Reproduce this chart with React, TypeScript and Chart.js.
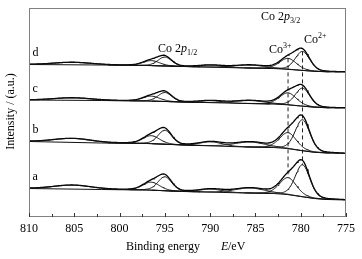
import React, { useEffect, useRef } from "react";
import { Chart, registerables } from "chart.js";

Chart.register(...registerables);

const W = 362;
const H = 259;
const FONT = '"Liberation Serif", "Times New Roman", serif';

// x axis ticks (binding energy, eV)
const xTickValues = [810, 805, 800, 795, 790, 785, 780, 775];
const xMinorValues = [807.5, 802.5, 797.5, 792.5, 787.5, 782.5, 777.5];

// spectra, bottom to top
const spectrumNames = ["a", "b", "c", "d"];

// fitted components: Co2+ 2p3/2, Co3+ 2p3/2, sat, sat, Co2+ 2p1/2, Co3+ 2p1/2, sat
const peakCenters = [779.8, 781.4, 785.6, 789.9, 795.0, 796.5, 805.2];
const peakFwhm = [1.9, 2.2, 4.0, 3.0, 1.8, 2.2, 5.0];
const heightsA = [32, 17, 5, 3, 14, 8, 4];
const heightsB = [31, 16, 5, 4, 14, 8, 4];
const heightsC = [18, 12, 3, 2, 9, 5, 2.5];
const heightsD = [19, 11, 3, 2, 9, 5, 2.5];

// background (Shirley) read at these energies
const bgEnergies = [810, 802, 797, 793, 786, 783, 781.5, 780, 778.5, 777, 775];
const bgA = [28.5, 27.5, 27, 25.5, 24, 23.5, 22.5, 20.5, 18.5, 17.5, 17];
const bgB = [75.5, 74, 73.5, 72, 70, 69.5, 68.5, 66.5, 64.7, 64, 63.5];
const bgC = [117, 116.5, 116, 115, 113.5, 113, 112.2, 111, 109.8, 109.2, 109];
const bgD = [152.5, 152, 151.5, 150.5, 149, 148.5, 147.7, 146.7, 145.7, 145.2, 145];

const LOR = 0.2;

function bgAt(e: number, vals: number[]): number {
  for (let i = 0; i < bgEnergies.length - 1; i++) {
    const e0 = bgEnergies[i];
    const e1 = bgEnergies[i + 1];
    if (e <= e0 && e >= e1) {
      const t = (e0 - e) / (e0 - e1);
      return vals[i] + t * (vals[i + 1] - vals[i]);
    }
  }
  return e > bgEnergies[0] ? vals[0] : vals[vals.length - 1];
}

function glPeak(e: number, c: number, w: number, h: number): number {
  const d = (e - c) / w;
  return h * ((1 - LOR) * Math.exp(-4 * Math.LN2 * d * d) + LOR / (1 + 4 * d * d));
}

type Rich = { t: string; italic?: boolean; size?: number; dy?: number };

function drawRich(ctx: CanvasRenderingContext2D, x: number, y: number, parts: Rich[]) {
  let cx = x;
  ctx.textAlign = "left";
  ctx.textBaseline = "alphabetic";
  for (const p of parts) {
    ctx.font = `${p.italic ? "italic " : ""}${p.size || 12}px ${FONT}`;
    ctx.fillText(p.t, cx, y + (p.dy || 0));
    cx += ctx.measureText(p.t).width;
  }
}

export default function App() {
  const ref = useRef<HTMLCanvasElement>(null);

  useEffect(() => {
    const canvas = ref.current;
    if (!canvas) return;

    const energies: number[] = [];
    for (let i = 0; i <= 350; i++) energies.push(Math.round((810 - i * 0.1) * 100) / 100);

    const spectra = [
      { h: heightsA, bg: bgA },
      { h: heightsB, bg: bgB },
      { h: heightsC, bg: bgC },
      { h: heightsD, bg: bgD },
    ];

    const datasets: any[] = [];
    const lineBase = {
      borderColor: "#111",
      borderWidth: 1,
      pointRadius: 0,
      fill: false,
      tension: 0,
    };

    spectra.forEach((s, si) => {
      datasets.push({
        ...lineBase,
        label: spectrumNames[si] + " background",
        data: bgEnergies.map((e, i) => ({ x: e, y: s.bg[i] })),
      });
      peakCenters.forEach((c, pi) => {
        const w = peakFwhm[pi];
        const pts = energies
          .filter((e) => Math.abs(e - c) <= 2.2 * w)
          .map((e) => ({ x: e, y: bgAt(e, s.bg) + glPeak(e, c, w, s.h[pi]) }));
        datasets.push({ ...lineBase, label: spectrumNames[si] + " comp " + pi, data: pts });
      });
      datasets.push({
        ...lineBase,
        borderWidth: 1.3,
        borderColor: "#000",
        label: spectrumNames[si] + " envelope",
        data: energies.map((e) => {
          let v = bgAt(e, s.bg);
          peakCenters.forEach((c, pi) => {
            v += glPeak(e, c, peakFwhm[pi], s.h[pi]);
          });
          return { x: e, y: v };
        }),
      });
    });

    // dashed guide lines through Co3+ and Co2+ 2p3/2 components, from d down to a
    [1, 0].forEach((pi) => {
      const c = peakCenters[pi];
      const top = bgAt(c, bgD) + heightsD[pi];
      const bot = bgAt(c, bgA) + heightsA[pi];
      datasets.push({
        ...lineBase,
        borderColor: "#222",
        borderDash: [4, 3],
        label: "guide " + pi,
        data: [
          { x: c, y: top },
          { x: c, y: bot },
        ],
      });
    });

    const decor = {
      id: "decor",
      afterDraw(chart: any) {
        const ctx: CanvasRenderingContext2D = chart.ctx;
        const xs = chart.scales.x;
        const ys = chart.scales.y;
        const { left, right, top, bottom } = chart.chartArea;
        ctx.save();
        // frame
        ctx.strokeStyle = "#808080";
        ctx.lineWidth = 1;
        ctx.strokeRect(left + 0.5, top + 0.5, right - left - 1, bottom - top - 1);
        // ticks (inward)
        ctx.strokeStyle = "#333";
        ctx.beginPath();
        xTickValues.forEach((v) => {
          const px = Math.round(xs.getPixelForValue(v)) + 0.5;
          ctx.moveTo(px, bottom);
          ctx.lineTo(px, bottom - 4);
        });
        xMinorValues.forEach((v) => {
          const px = Math.round(xs.getPixelForValue(v)) + 0.5;
          ctx.moveTo(px, bottom);
          ctx.lineTo(px, bottom - 3);
        });
        ctx.stroke();

        ctx.fillStyle = "#000";
        // spectrum labels
        const bgs = [bgA, bgB, bgC, bgD];
        ctx.font = `12px ${FONT}`;
        ctx.textAlign = "left";
        ctx.textBaseline = "middle";
        spectrumNames.forEach((n, i) => {
          ctx.fillText(n, xs.getPixelForValue(809.6), ys.getPixelForValue(bgs[i][0] + 11.5));
        });

        // peak annotations
        drawRich(ctx, xs.getPixelForValue(795.76), ys.getPixelForValue(165.3), [
          { t: "Co 2" },
          { t: "p", italic: true },
          { t: "1/2", size: 8, dy: 3 },
        ]);
        drawRich(ctx, xs.getPixelForValue(784.38), ys.getPixelForValue(197), [
          { t: "Co 2" },
          { t: "p", italic: true },
          { t: "3/2", size: 8, dy: 3 },
        ]);
        drawRich(ctx, xs.getPixelForValue(783.5), ys.getPixelForValue(163.7), [
          { t: "Co" },
          { t: "3+", size: 8, dy: -5 },
        ]);
        drawRich(ctx, xs.getPixelForValue(779.64), ys.getPixelForValue(173.7), [
          { t: "Co" },
          { t: "2+", size: 8, dy: -5 },
        ]);

        // x title
        drawRich(ctx, 126, 250, [{ t: "Binding energy" }]);
        drawRich(ctx, 221, 250, [{ t: "E", italic: true }]);
        drawRich(ctx, 228, 250, [{ t: "/eV" }]);

        // y title
        ctx.translate(11, (top + bottom) / 2 - 1);
        ctx.rotate(-Math.PI / 2);
        ctx.font = `12px ${FONT}`;
        ctx.textAlign = "center";
        ctx.textBaseline = "middle";
        ctx.fillText("Intensity / (a.u.)", 0, 0);
        ctx.restore();
      },
    };

    const chart = new Chart(canvas, {
      type: "line",
      data: { datasets },
      options: {
        animation: false,
        responsive: false,
        devicePixelRatio: 1,
        layout: { padding: { left: 29, right: 16, top: 8, bottom: 0 } },
        plugins: { legend: { display: false }, tooltip: { enabled: false } },
        scales: {
          x: {
            type: "linear",
            reverse: true,
            min: 775,
            max: 810,
            grid: { display: false, drawTicks: false },
            border: { display: false },
            afterFit: (s: any) => {
              s.height = 42;
            },
            afterBuildTicks: (s: any) => {
              s.ticks = xTickValues.map((v) => ({ value: v }));
            },
            ticks: {
              autoSkip: false,
              maxRotation: 0,
              padding: 5,
              color: "#000",
              font: { family: FONT, size: 12 },
              callback: (v: any) => String(v),
            },
          },
          y: { display: false, min: 0, max: 209 },
        },
      },
      plugins: [decor],
    } as any);

    return () => chart.destroy();
  }, []);

  return (
    <div style={{ position: "absolute", left: 0, top: 0, width: W, height: H, background: "#fff" }}>
      <canvas ref={ref} width={W} height={H} style={{ width: W, height: H, display: "block" }} />
    </div>
  );
}
